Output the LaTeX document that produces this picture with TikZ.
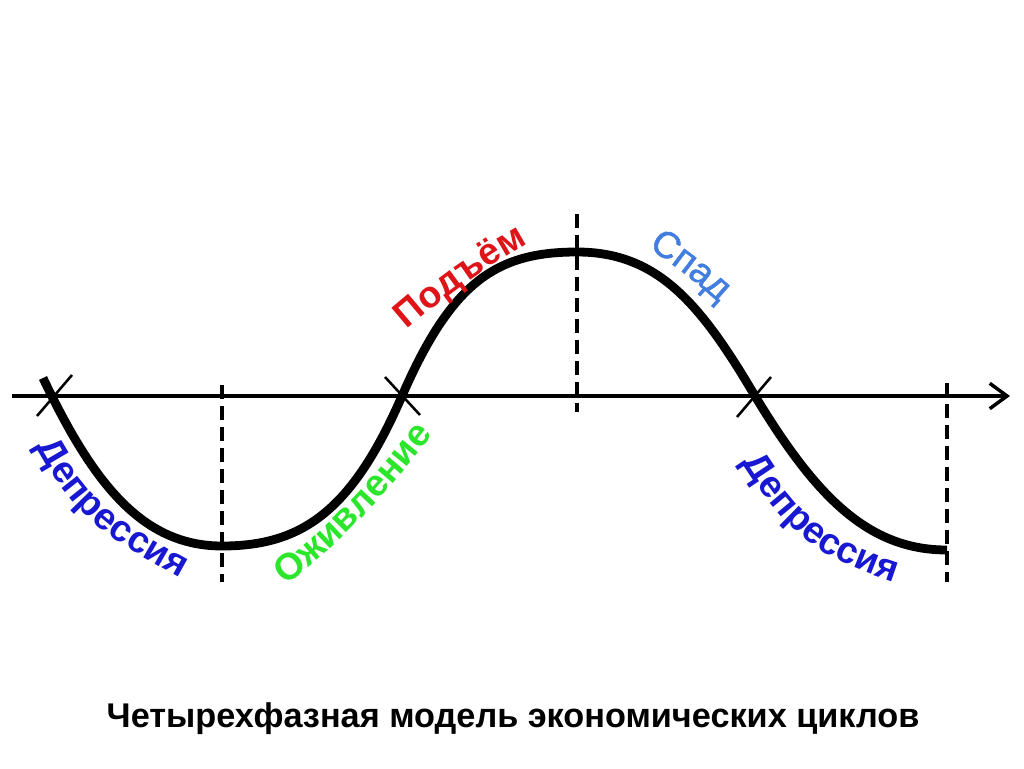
\documentclass[tikz,border=0pt]{standalone}
\usepackage{fontspec}
\setmainfont{Liberation Sans}
\newfontfamily\spadface{Liberation Sans}[FakeBold=1.4]
\usetikzlibrary{arrows.meta,decorations.text}
\definecolor{depblue}{RGB}{24,24,210}
\definecolor{ozhgreen}{RGB}{44,230,44}
\definecolor{podred}{RGB}{222,20,24}
\definecolor{spadblue}{RGB}{66,126,224}
\newcommand\fmtdep{\fontsize{28pt}{28pt}\selectfont\bfseries\color{depblue}}
\newcommand\fmtozh{\fontsize{28pt}{28pt}\selectfont\bfseries\color{ozhgreen}}
\newcommand\fmtpod{\fontsize{28pt}{28pt}\selectfont\bfseries\color{podred}}
\newcommand\fmtspad{\spadface\fontsize{28pt}{28pt}\selectfont\color{spadblue}}
\begin{document}
\begin{tikzpicture}[x=0.75pt,y=-0.75pt,
  curveline/.style={line width=6.6pt,line cap=butt},
  axisline/.style={line width=2.6pt},
  tickline/.style={line width=1.9pt},
  guide/.style={line width=2.6pt,dash pattern=on 10.5pt off 5.25pt},
  lbl/.style={decorate}]
\useasboundingbox (0,0) rectangle (1024,768);
% key points
\coordinate (c0) at (43,378);
\coordinate (m1) at (222,546);
\coordinate (x1) at (402,396);
\coordinate (p1) at (577,252);
\coordinate (x2) at (755,396);
\coordinate (e1) at (947,550);
\coordinate (k0) at (54,396);
\coordinate (a0) at (12,396);
\coordinate (a1) at (1010,396);
% axis
\draw[axisline,-{Straight Barb[length=13pt,width=19pt]}] (a0) -- (a1);
% dashed guides
\coordinate (g1t) at (222,385); \coordinate (g1b) at (222,582);
\coordinate (g2t) at (577,214); \coordinate (g2b) at (577,412);
\coordinate (g3t) at (947,383); \coordinate (g3b) at (947,582);
\draw[guide] (g1t) -- (g1b);
\draw[guide] (g2t) -- (g2b);
\draw[guide] (g3t) -- (g3b);
% ticks at crossings
\draw[tickline] ([shift={(-17,20)}]k0) -- ([shift={(18,-21)}]k0);
\draw[tickline] ([shift={(-17,-19)}]x1) -- ([shift={(18,19)}]x1);
\draw[tickline] ([shift={(-18,21)}]x2) -- ([shift={(16,-19)}]x2);
% curve
\draw[curveline] (c0) .. controls (93,483) and (142,546) .. (m1)
  .. controls (302,546) and (352,511) .. (x1)
  .. controls (452,281) and (497,252) .. (p1)
  .. controls (657,252) and (700,302.5) .. (x2)
  .. controls (815,495) and (867,550) .. (e1);
% labels along the curve (baselines)
\path[lbl,decoration={text along path,text={|\fmtdep|Депрессия}}]
  (36,446) .. controls (77,520) and (108,538) .. (182,579) -- (240,610);
\path[lbl,decoration={text along path,text={|\fmtozh|Оживление}}]
  (285,585) .. controls (331,555) and (393.5,485.5) .. (427,442) -- (460,399);
\path[lbl,decoration={text along path,text={|\fmtpod|Подъём}}]
  (407,330) .. controls (437,303) and (496,260) .. (532,242) -- (580,218);
\path[lbl,decoration={text along path,text={|\fmtspad|Спад}}]
  (648,248) .. controls (669.4,261) and (698.4,284) .. (717,301) -- (755,336);
\path[lbl,decoration={text along path,text={|\fmtdep|Депрессия}}]
  (742,462) .. controls (785.4,529.2) and (811.2,554.2) .. (887,580) -- (945,600);
% title
\node[anchor=base,inner sep=0pt] (title) at (513,727)
  {\fontsize{25.7pt}{26pt}\selectfont\bfseries Четырехфазная модель экономических циклов};
\end{tikzpicture}
\end{document}
